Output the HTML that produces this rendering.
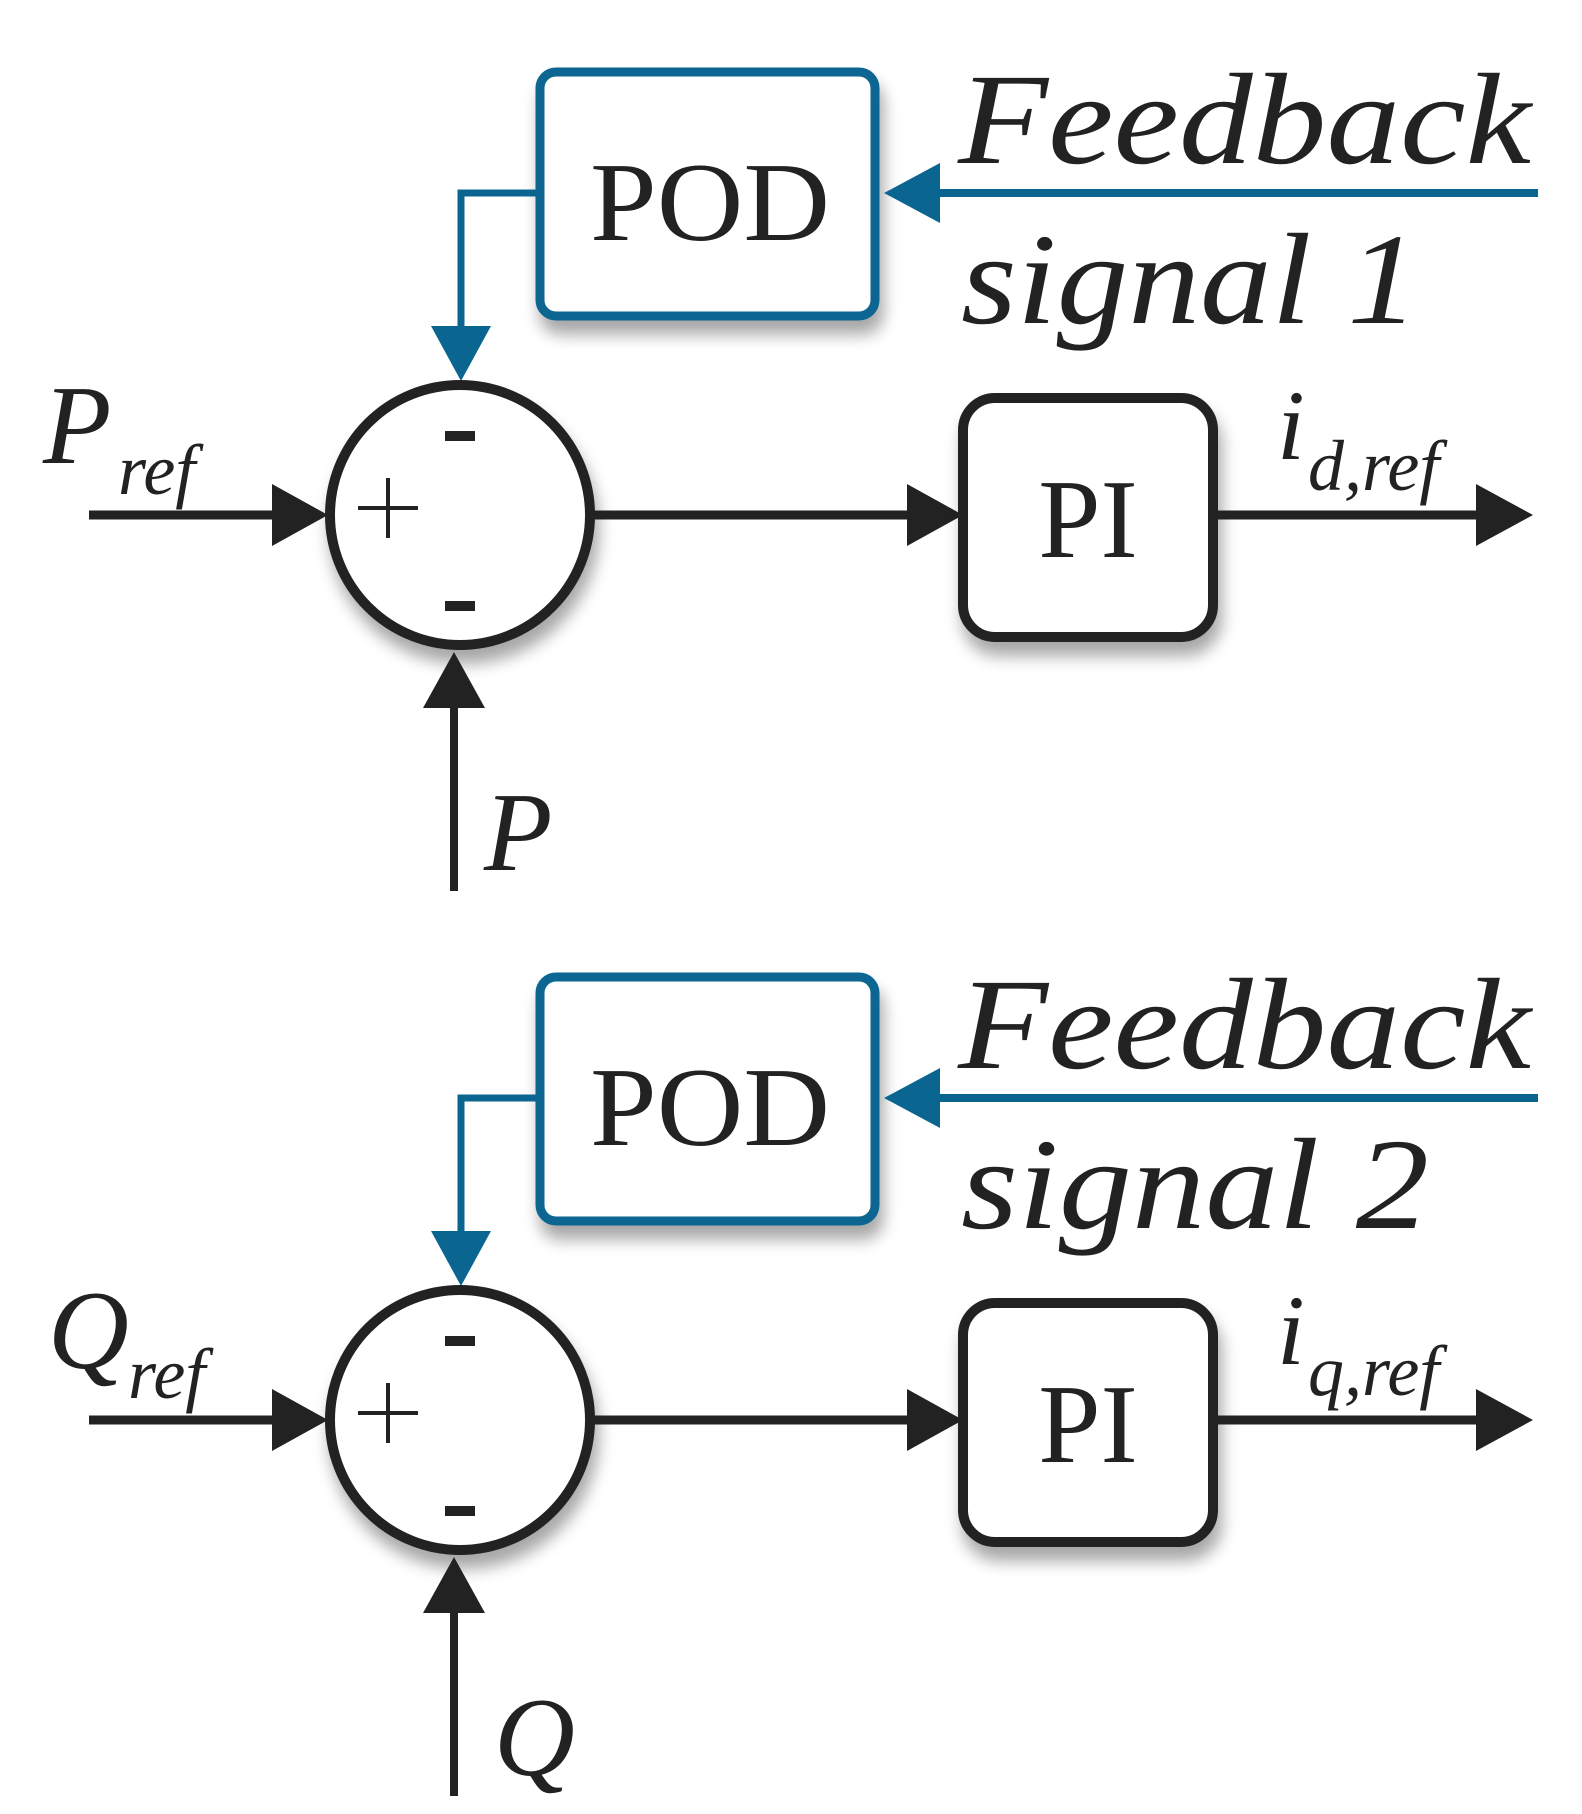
<!DOCTYPE html>
<html><head><meta charset="utf-8"><style>html,body{margin:0;padding:0;background:#fff}svg{display:block}</style></head><body>
<svg width="1582" height="1814" viewBox="0 0 1582 1814" xmlns="http://www.w3.org/2000/svg">
<defs>
<filter id="sh" x="-20%" y="-20%" width="150%" height="150%"><feGaussianBlur in="SourceAlpha" stdDeviation="8"/><feOffset dx="4" dy="14"/><feComponentTransfer><feFuncA type="linear" slope="0.35"/></feComponentTransfer><feMerge><feMergeNode/><feMergeNode in="SourceGraphic"/></feMerge></filter>
<g id="half">
  <rect x="540" y="72" width="335" height="244" rx="16" fill="#fff" stroke="#0a6591" stroke-width="9" filter="url(#sh)"/>
  <text x="710" y="240" font-family="'Liberation Serif', serif" font-size="112" text-anchor="middle" fill="#222" textLength="240" lengthAdjust="spacingAndGlyphs">POD</text>
  <line x1="1538" y1="193" x2="930" y2="193" stroke="#0a6591" stroke-width="8"/>
  <polygon points="884,193 940,163 940,223" fill="#0a6591"/>
  <polyline points="540,193 461,193 461,330" fill="none" stroke="#0a6591" stroke-width="7"/>
  <polygon points="461,381 431,326 491,326" fill="#0a6591"/>
  <circle cx="460" cy="515" r="130" fill="#fff" stroke="#222" stroke-width="10" filter="url(#sh)"/>
  <rect x="445" y="431" width="30" height="10" fill="#222"/>
  <rect x="445" y="601" width="30" height="10" fill="#222"/>
  <line x1="358" y1="508" x2="418" y2="508" stroke="#222" stroke-width="4"/>
  <line x1="388" y1="478" x2="388" y2="538" stroke="#222" stroke-width="4"/>
  <line x1="89" y1="515" x2="290" y2="515" stroke="#222" stroke-width="9"/>
  <polygon points="328,515 272,484 272,546" fill="#222"/>
  <line x1="590" y1="515" x2="920" y2="515" stroke="#222" stroke-width="9"/>
  <polygon points="963,515 907,484 907,546" fill="#222"/>
  <rect x="963" y="398" width="250" height="239" rx="32" fill="#fff" stroke="#222" stroke-width="10" filter="url(#sh)"/>
  <text x="1088" y="557" font-family="'Liberation Serif', serif" font-size="112" text-anchor="middle" fill="#222">PI</text>
  <line x1="1213" y1="515" x2="1490" y2="515" stroke="#222" stroke-width="9"/>
  <polygon points="1533,515 1476,484 1476,546" fill="#222"/>
  <line x1="454" y1="891" x2="454" y2="690" stroke="#222" stroke-width="8"/>
  <polygon points="454,652 423,708 485,708" fill="#222"/>
</g>
</defs>
<use href="#half"/>
<use href="#half" transform="translate(0,905)"/>
<g font-family="'Liberation Serif', serif" font-style="italic" fill="#222">
  <text x="958" y="163" font-size="130" textLength="573" lengthAdjust="spacingAndGlyphs">Feedback</text>
  <text x="961" y="323" font-size="130" textLength="458" lengthAdjust="spacingAndGlyphs">signal 1</text>
  <text x="958" y="1068" font-size="130" textLength="573" lengthAdjust="spacingAndGlyphs">Feedback</text>
  <text x="961" y="1228" font-size="130" textLength="468" lengthAdjust="spacingAndGlyphs">signal 2</text>
  <text x="43" y="463" font-size="112">P</text>
  <text x="118" y="494" font-size="72">ref</text>
  <text x="484" y="870" font-size="112">P</text>
  <text x="1277" y="459" font-size="100">i</text>
  <text x="1308" y="490" font-size="72">d,ref</text>
  <text x="48" y="1368" font-size="112">Q</text>
  <text x="128" y="1398" font-size="72">ref</text>
  <text x="494" y="1775" font-size="112">Q</text>
  <text x="1277" y="1364" font-size="100">i</text>
  <text x="1308" y="1395" font-size="72">q,ref</text>
</g>
</svg>
</body></html>
